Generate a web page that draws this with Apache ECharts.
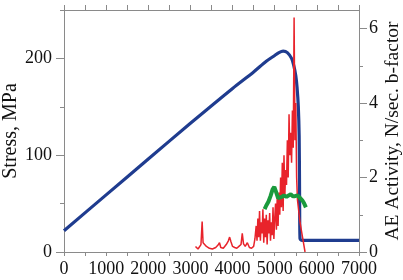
<!DOCTYPE html>
<html>
<head>
<meta charset="utf-8">
<script src="https://cdn.jsdelivr.net/npm/echarts@6/dist/echarts.min.js"></script>
<style>html,body{margin:0;padding:0;background:#fff}#c{width:403px;height:280px}</style>
</head>
<body>
<div id="c"></div>
<script>
// Stress (left axis, MPa) vs time
var stressTime = [0, 1000, 2000, 3000, 4000, 4500, 4800, 5000, 5100, 5200, 5300, 5400, 5450, 5500, 5530, 5560, 5580, 5590, 5600, 5650, 6000, 7000];
var stressVal  = [22, 59, 96, 133, 169, 186, 197, 203, 206, 207.5, 206, 200, 193, 182, 170, 150, 120, 60, 14, 12, 12, 12];

// AE activity (right axis, N/sec)
var aeTime = [3120, 3180, 3250, 3278, 3300, 3340, 3380, 3450, 3520, 3600, 3650, 3690, 3720, 3780, 3850, 3900, 3930, 3960, 4000, 4050, 4100, 4150, 4200, 4230, 4260, 4300, 4350, 4400, 4450, 4500, 4530, 4560, 4580, 4600, 4620, 4640, 4660, 4680, 4700, 4720, 4740, 4760, 4780, 4800, 4820, 4840, 4860, 4880, 4900, 4920, 4940, 4960, 4980, 5000, 5020, 5040, 5060, 5080, 5100, 5120, 5140, 5160, 5180, 5200, 5220, 5240, 5260, 5280, 5300, 5320, 5340, 5360, 5380, 5400, 5420, 5440, 5460, 5480, 5500, 5520, 5540, 5600, 5660, 5720];
var aeVal  = [0.15, 0.08, 0.2, 0.82, 0.25, 0.3, 0.15, 0.1, 0.08, 0.12, 0.18, 0.25, 0.12, 0.1, 0.2, 0.3, 0.4, 0.28, 0.15, 0.12, 0.1, 0.15, 0.2, 0.5, 0.22, 0.15, 0.25, 0.12, 0.1, 0.15, 0.35, 0.7, 0.3, 0.9, 0.4, 1.1, 0.3, 0.8, 0.5, 1.15, 0.25, 0.9, 0.4, 1.0, 0.2, 0.85, 0.5, 1.05, 0.3, 0.8, 0.45, 1.2, 0.35, 0.9, 1.3, 0.6, 1.5, 0.7, 1.6, 1.0, 2.0, 1.2, 2.4, 1.1, 2.6, 1.5, 2.2, 1.8, 3.0, 2.0, 3.7, 2.6, 3.2, 2.4, 3.8, 2.8, 6.3, 3.0, 4.0, 2.0, 1.4, 0.8, 0.4, 0];

// b-factor (right axis)
var bTime = [4760, 4800, 4850, 4900, 4950, 4990, 5030, 5080, 5120, 5170, 5220, 5280, 5330, 5380, 5430, 5480, 5540, 5600, 5660, 5700, 5740];
var bVal  = [1.15, 1.25, 1.35, 1.5, 1.68, 1.75, 1.62, 1.45, 1.4, 1.48, 1.52, 1.48, 1.52, 1.55, 1.5, 1.5, 1.52, 1.45, 1.38, 1.3, 1.2];

// Tick labels
var xTickLabels = [0, 1000, 2000, 3000, 4000, 5000, 6000, 7000];
var xTickMarks = [0, 500, 1000, 1500, 2000, 2500, 3000, 3500, 4000, 4500, 5000, 5500, 6000, 6500, 7000];
var leftLabels = [0, 100, 200];
var leftMinor = [50, 150, 250];
var rightLabels = [0, 2, 4, 6];
var rightMinor = [1, 3, 5];

function zip(a, b) { return a.map(function (v, i) { return [v, b[i]]; }); }
function plain(v) { return String(v); }

var FONT = 'Liberation Serif';
var axisCol = '#8a8a8a';
var chart = echarts.init(document.getElementById('c'), null, { renderer: 'canvas' });
chart.setOption({
  animation: false,
  backgroundColor: '#fff',
  grid: { left: 64, right: 44, top: 10, bottom: 28, containLabel: false, outerBoundsMode: 'none' },
  xAxis: [{
    type: 'value', min: 0, max: 7000, position: 'bottom',
    axisLine: { show: true, onZero: false, lineStyle: { color: axisCol, width: 1 } },
    axisTick: { show: true, length: 4, customValues: xTickMarks, lineStyle: { color: axisCol } },
    axisLabel: { customValues: xTickLabels, formatter: plain, hideOverlap: false, showMinLabel: true, showMaxLabel: true, color: '#111', fontFamily: FONT, fontSize: 18, margin: 8 },
    splitLine: { show: false }
  }, {
    type: 'value', min: 0, max: 7000, position: 'top',
    axisLine: { show: true, onZero: false, lineStyle: { color: axisCol, width: 1 } },
    axisTick: { show: true, length: 5, customValues: xTickMarks, lineStyle: { color: axisCol } },
    axisLabel: { show: false },
    splitLine: { show: false }
  }],
  yAxis: [{
    type: 'value', min: 0, max: 250, position: 'left',
    name: 'Stress, MPa', nameLocation: 'middle', nameRotate: 90, nameGap: 43, nameMoveOverlap: false,
    nameTextStyle: { color: '#111', fontFamily: FONT, fontSize: 20 },
    axisLine: { show: true, onZero: false, lineStyle: { color: axisCol, width: 1 } },
    axisTick: { show: true, length: 8, customValues: leftLabels, lineStyle: { color: axisCol } },
    axisLabel: { customValues: leftLabels, formatter: plain, color: '#111', fontFamily: FONT, fontSize: 18, margin: 12 },
    splitLine: { show: false }
  }, {
    type: 'value', min: 0, max: 6.5, position: 'right',
    name: 'AE Activity, N/sec. b-factor', nameLocation: 'middle', nameRotate: 90, nameGap: 24, nameMoveOverlap: false,
    nameTextStyle: { color: '#111', fontFamily: FONT, fontSize: 19.5 },
    axisLine: { show: true, onZero: false, lineStyle: { color: axisCol, width: 1 } },
    axisTick: { show: true, length: 8, customValues: rightLabels, lineStyle: { color: axisCol } },
    axisLabel: { customValues: rightLabels, formatter: plain, color: '#111', fontFamily: FONT, fontSize: 18, margin: 10 },
    splitLine: { show: false }
  }, {
    type: 'value', min: 0, max: 250, position: 'left',
    axisLine: { show: false, onZero: false },
    axisTick: { show: true, length: 4, customValues: leftMinor, lineStyle: { color: axisCol } },
    axisLabel: { show: false },
    splitLine: { show: false }
  }, {
    type: 'value', min: 0, max: 6.5, position: 'right',
    axisLine: { show: false, onZero: false },
    axisTick: { show: true, length: 4, customValues: rightMinor, lineStyle: { color: axisCol } },
    axisLabel: { show: false },
    splitLine: { show: false }
  }],
  series: [{
    type: 'line', xAxisIndex: 0, yAxisIndex: 0, data: zip(stressTime, stressVal),
    showSymbol: false, symbol: 'none', smooth: 0.3, z: 2,
    lineStyle: { color: '#1f3c8f', width: 3.2 }
  }, {
    type: 'line', xAxisIndex: 0, yAxisIndex: 1, data: zip(aeTime, aeVal),
    showSymbol: false, symbol: 'none', z: 3,
    lineStyle: { color: '#e8232b', width: 1.5 }
  }, {
    type: 'line', xAxisIndex: 0, yAxisIndex: 1, data: zip(bTime, bVal),
    showSymbol: false, symbol: 'none', z: 4,
    lineStyle: { color: '#1a9a3c', width: 4 }
  }]
});
</script>
</body>
</html>
